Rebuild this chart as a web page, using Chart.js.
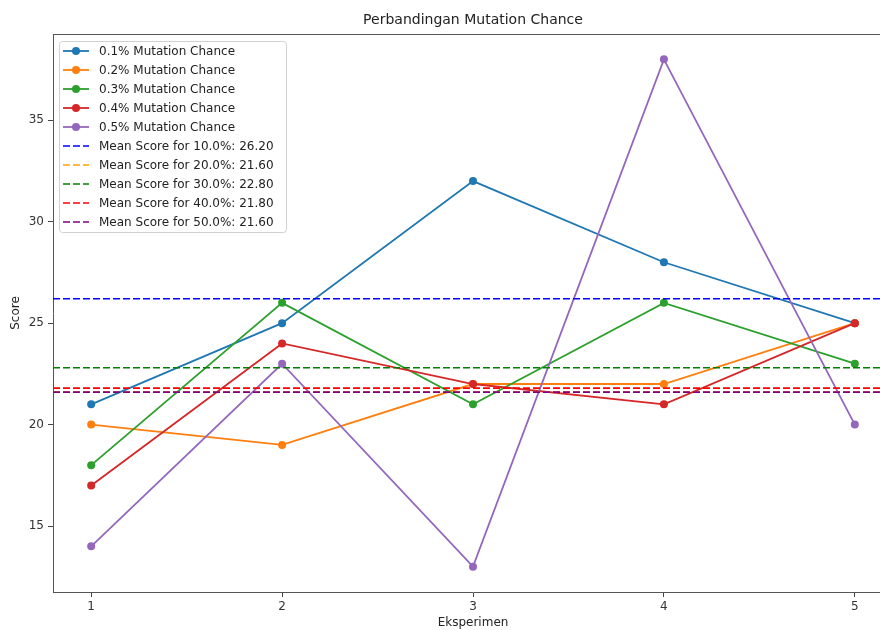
<!DOCTYPE html>
<html>
<head>
<meta charset="utf-8">
<script src="https://cdn.jsdelivr.net/npm/chart.js@4"></script>
<style>
  html, body { margin: 0; padding: 0; background: #fff; }
  #wrap { width: 880px; height: 630px; overflow: hidden; }
</style>
</head>
<body>
<div id="wrap"><canvas id="c" width="900" height="630"></canvas></div>
<script>
// data
const experiments = [1, 2, 3, 4, 5];
const mut01 = [21, 25, 32, 28, 25];
const mut02 = [20, 19, 22, 22, 25];
const mut03 = [18, 26, 21, 26, 23];
const mut04 = [17, 24, 22, 21, 25];
const mut05 = [14, 23, 13, 38, 20];
const seriesNames = ['0.1% Mutation Chance', '0.2% Mutation Chance', '0.3% Mutation Chance', '0.4% Mutation Chance', '0.5% Mutation Chance'];
const meanValues = [26.2, 21.6, 22.8, 21.8, 21.6];
const meanNames = ['Mean Score for 10.0%: 26.20', 'Mean Score for 20.0%: 21.60', 'Mean Score for 30.0%: 22.80', 'Mean Score for 40.0%: 21.80', 'Mean Score for 50.0%: 21.60'];
const yTicks = [15, 20, 25, 30, 35];
const xMin = 0.8, xMax = 5.2;

const lineColors = ['#1f77b4', '#ff7f0e', '#2ca02c', '#d62728', '#9467bd'];
const meanColors = ['blue', 'orange', 'green', 'red', 'purple'];
const FONT = '"DejaVu Sans", sans-serif';

const allSeries = [mut01, mut02, mut03, mut04, mut05];
const datasets = [];
allSeries.forEach((s, i) => {
  datasets.push({
    label: seriesNames[i],
    data: s.map((v, j) => ({ x: experiments[j], y: v })),
    borderColor: lineColors[i],
    backgroundColor: lineColors[i],
    borderWidth: 1.8,
    pointRadius: 4,
    pointHoverRadius: 4,
    pointBorderWidth: 0,
    order: 10 - i
  });
});
meanValues.forEach((m, i) => {
  datasets.push({
    label: meanNames[i],
    data: [{ x: xMin, y: m }, { x: xMax, y: m }],
    borderColor: meanColors[i],
    borderWidth: 1.6,
    borderDash: [7, 3],
    pointRadius: 0,
    order: 5 - i
  });
});

// title, top spine and legend box
const decor = {
  id: 'decor',
  afterDatasetsDraw(chart) {
    const ctx = chart.ctx, a = chart.chartArea;
    ctx.save();
    ctx.strokeStyle = '#555';
    ctx.lineWidth = 1;
    ctx.beginPath();
    ctx.moveTo(a.left, a.top + 0.5);
    ctx.lineTo(a.right, a.top + 0.5);
    ctx.stroke();

    ctx.fillStyle = '#222';
    ctx.font = '14px ' + FONT;
    ctx.textAlign = 'center';
    ctx.textBaseline = 'middle';
    ctx.fillText('Perbandingan Mutation Chance', (a.left + a.right) / 2, 20);

    // legend
    const bx = a.left + 6, by = a.top + 7, bw = 227, bh = 191;
    ctx.fillStyle = 'rgba(255,255,255,0.8)';
    ctx.strokeStyle = '#d0d0d0';
    ctx.beginPath();
    ctx.roundRect(bx + 0.5, by + 0.5, bw, bh, 3);
    ctx.fill();
    ctx.stroke();
    ctx.font = '12px ' + FONT;
    ctx.textAlign = 'left';
    const labels = seriesNames.concat(meanNames);
    labels.forEach((t, i) => {
      const y = by + 10 + i * 19;
      const x0 = bx + 4, x1 = bx + 30;
      ctx.lineWidth = i < 5 ? 1.8 : 1.6;
      ctx.strokeStyle = i < 5 ? lineColors[i] : meanColors[i - 5];
      ctx.setLineDash(i < 5 ? [] : [7, 3]);
      ctx.beginPath();
      ctx.moveTo(x0, y);
      ctx.lineTo(x1, y);
      ctx.stroke();
      ctx.setLineDash([]);
      if (i < 5) {
        ctx.fillStyle = lineColors[i];
        ctx.beginPath();
        ctx.arc((x0 + x1) / 2, y, 4, 0, Math.PI * 2);
        ctx.fill();
      }
      ctx.fillStyle = '#222';
      ctx.fillText(t, bx + 40, y + 1);
    });
    ctx.restore();
  }
};

new Chart(document.getElementById('c'), {
  type: 'line',
  data: { datasets },
  plugins: [decor],
  options: {
    responsive: false,
    animation: false,
    devicePixelRatio: 1,
    layout: { padding: { left: 0, top: 34, right: 7, bottom: 0 } },
    plugins: { legend: { display: false }, tooltip: { enabled: false } },
    scales: {
      x: {
        type: 'linear',
        min: xMin,
        max: xMax,
        afterBuildTicks: s => { s.ticks = experiments.map(v => ({ value: v })); },
        afterFit: s => { s.height = 38; },
        grid: { drawOnChartArea: false, drawTicks: true, tickLength: 5, color: '#444' },
        border: { color: '#555', width: 1 },
        ticks: { color: '#333', font: { family: FONT, size: 12 }, padding: 3, maxRotation: 0 },
        title: { display: true, text: 'Eksperimen', color: '#222', font: { family: FONT, size: 12 }, padding: { top: 3, bottom: 0 } }
      },
      y: {
        type: 'linear',
        min: 11.75,
        max: 39.25,
        afterBuildTicks: s => { s.ticks = yTicks.map(v => ({ value: v })); },
        afterFit: s => { s.width = 53; },
        grid: { drawOnChartArea: false, drawTicks: true, tickLength: 5, color: '#444' },
        border: { color: '#555', width: 1 },
        ticks: { color: '#333', font: { family: FONT, size: 12 }, padding: 4 },
        title: { display: true, text: 'Score', color: '#222', font: { family: FONT, size: 12 }, padding: { top: 9, bottom: 0 } }
      }
    }
  }
});
</script>
</body>
</html>
